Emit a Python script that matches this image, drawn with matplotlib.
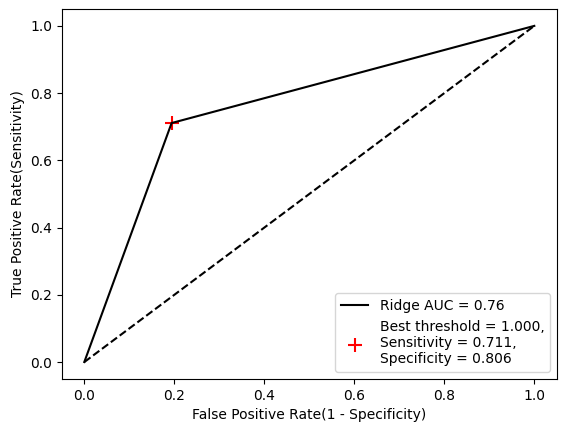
import matplotlib
matplotlib.use("Agg")
import matplotlib.pyplot as plt

fpr = [0.0, 0.194, 1.0]
tpr = [0.0, 0.711, 1.0]
auc = 0.76
best_threshold = 1.000
sensitivity = 0.711
specificity = 0.806

fig = plt.figure(figsize=(5.67, 4.32), dpi=100)
fig.subplots_adjust(left=0.109, right=0.982, top=0.979, bottom=0.123)
plt.plot(fpr, tpr, color='black', label='Ridge AUC = %.2f' % auc)
plt.plot([0, 1], [0, 1], color='black', linestyle='--')
plt.scatter(1 - specificity, sensitivity, marker='+', color='red', s=100,
            label='Best threshold = %.3f,\nSensitivity = %.3f,\nSpecificity = %.3f'
            % (best_threshold, sensitivity, specificity))
plt.xlabel('False Positive Rate(1 - Specificity)')
plt.ylabel('True Positive Rate(Sensitivity)')
plt.legend(loc='lower right')
plt.savefig('out.png')
